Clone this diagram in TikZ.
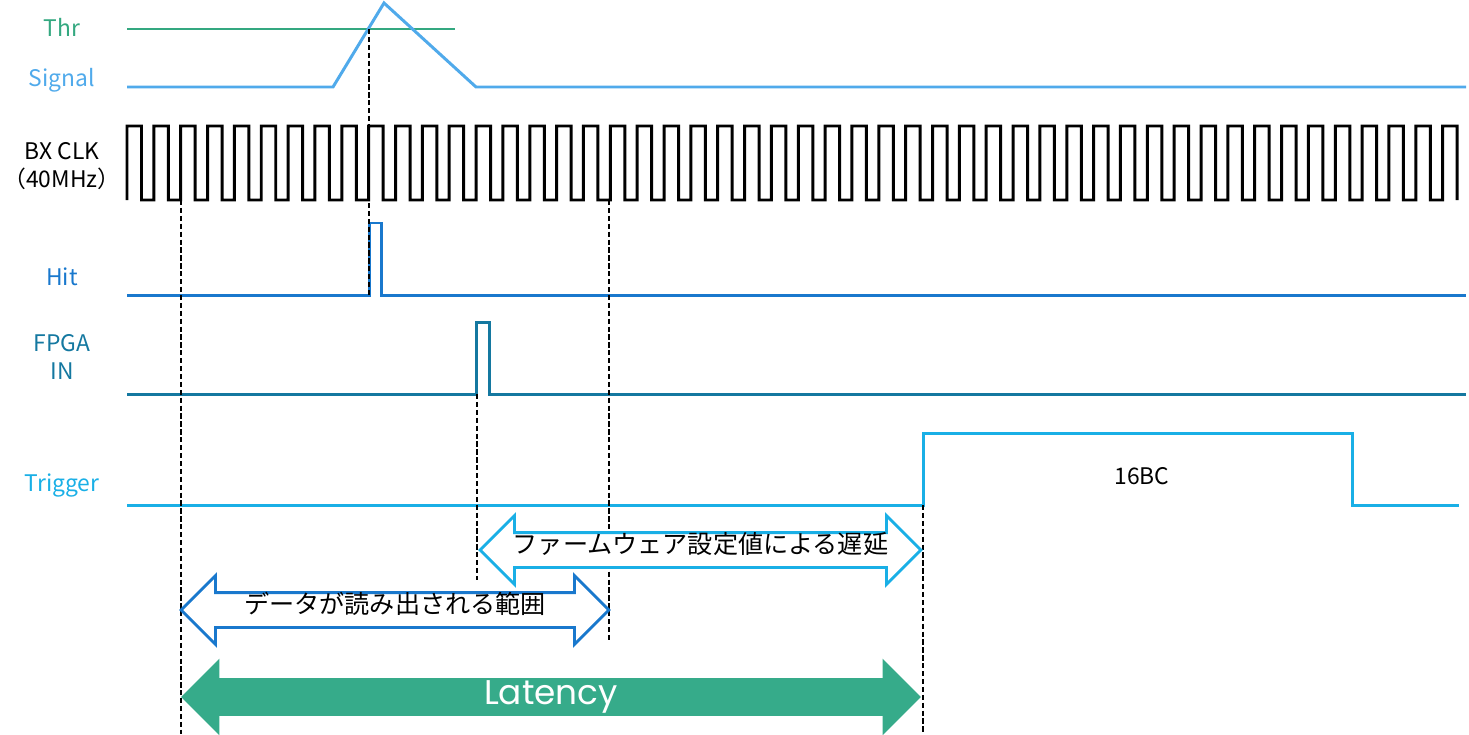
\documentclass[tikz,border=0pt]{standalone}
\usepackage{fontspec}
\setmainfont{Noto Sans CJK JP}
\newfontfamily\latfont{Poppins}
\usetikzlibrary{shapes.arrows,positioning}
\definecolor{thrgreen}{RGB}{52,168,128}
\definecolor{sigblue}{RGB}{80,170,235}
\definecolor{hitblue}{RGB}{25,120,205}
\definecolor{fpgablue}{RGB}{20,120,160}
\definecolor{trigblue}{RGB}{25,175,230}
\definecolor{latgreen}{RGB}{54,171,138}
\tikzstyle{wave}=[
  line width=1.7pt
]
\tikzstyle{guide}=[
  line width=0.8pt,dash pattern=on 3pt off 1.5pt
]
\tikzstyle{siglabel}=[
  font=\fontsize{13}{16}\selectfont,align=center,inner sep=0pt
]
\tikzstyle{spanarrow}=[
  double arrow,draw,line width=1.6pt,fill=white,double arrow head extend=0.34cm,
  inner xsep=0pt,inner ysep=0.17cm,text height=0.22cm,text depth=0.08cm,
  font=\fontsize{14.3}{16}\selectfont
]
\tikzstyle{latarrow}=[
  double arrow,fill=latgreen,double arrow head extend=0.39cm,
  inner xsep=0pt,inner ysep=0.15cm,text height=0.36cm,text depth=0.08cm,
  text=white,font=\latfont\fontsize{19.5}{21}\selectfont
]

\begin{document}
\begin{tikzpicture}[x=0.02cm,y=-0.02cm]
    \useasboundingbox (0,0) rectangle (1469,734);
    % signal names
    \node (thr) [siglabel,text=thrgreen] at (62,27) {Thr};
    \node (signal) [siglabel,text=sigblue] at (62,80) {Signal};
    \node (bxclk) [siglabel] at (62,166) {BX CLK\\（40MHz）};
    \node (hit) [siglabel,text=hitblue] at (62,277) {Hit};
    \node (fpgain) [siglabel,text=fpgablue] at (62,357) {FPGA\\IN};
    \node (trigger) [siglabel,text=trigblue] at (62,485) {Trigger};
    \node (bc16) [siglabel] at (1142,476) {16BC};
    % waveforms
    \draw [wave,thrgreen] (127,29) -- (455,29);
    \draw [wave,sigblue] (127,87) -- (333,87) -- (384,3) -- (476,87) -- (1466,87);
    \draw [wave,black] (127,200)
      \foreach \k in {0,...,48} {
        -- ({127+\k*26.85},126) -- ({141.5+\k*26.85},126)
        -- ({141.5+\k*26.85},200) -- ({127+(\k+1)*26.85},200)
      } -- (1442.7,126) -- (1457.2,126) -- (1457.2,200);
    \draw [wave,hitblue] (127,295) -- (369,295) -- (369,223) -- (381,223) -- (381,295) -- (1466,295);
    \draw [wave,fpgablue] (127,394) -- (476,394) -- (476,322) -- (489,322) -- (489,394) -- (1466,394);
    \draw [wave,trigblue] (127,505) -- (923,505) -- (923,433) -- (1352,433) -- (1352,505) -- (1459,505);
    % guide lines
    \coordinate (cross) at (369,29);
    \coordinate (readstart) at (181,200);
    \coordinate (readend) at (609,200);
    \coordinate (fwstart) at (477,394);
    \coordinate (trigstart) at (923,505);
    \draw [guide] (cross) -- (369,295);
    \draw [guide] (readstart) -- (181,734);
    \draw [guide] (readend) -- (609,640);
    \draw [guide] (fwstart) -- (477,580);
    \draw [guide] (trigstart) -- (923,734);
    % spans
    \node (firmware) [spanarrow,draw=trigblue,minimum height=8.82cm] at (700.5,550) {ファームウェア設定値による遅延};
    \node (readout) [spanarrow,draw=hitblue,minimum height=8.56cm] at (395,610) {データが読み出される範囲};
    \node (latency) [latarrow,minimum height=14.8cm] at (551,697) {Latency};
\end{tikzpicture}
\end{document}
